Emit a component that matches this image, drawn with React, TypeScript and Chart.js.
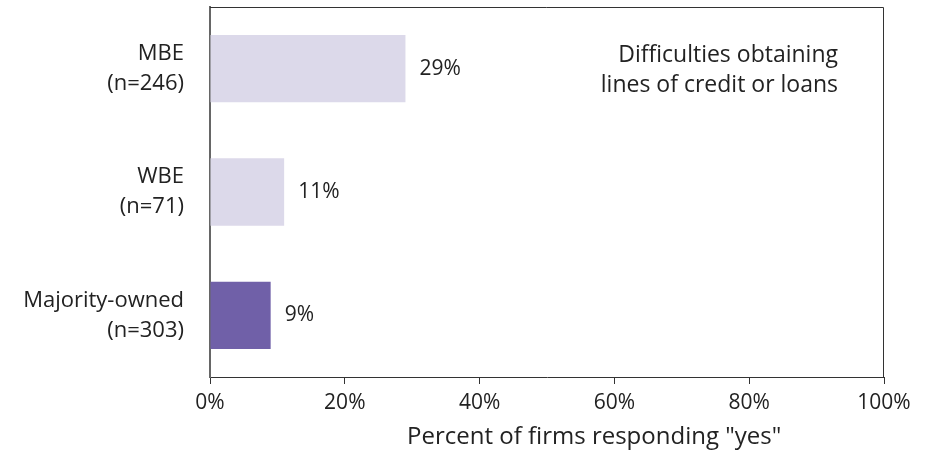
import React, { useEffect, useRef } from "react";
import { Chart, registerables } from "chart.js";

Chart.register(...registerables);

const categories: string[][] = [["MBE", "(n=246)"], ["WBE", "(n=71)"], ["Majority-owned", "(n=303)"]];
const values: number[] = [29, 11, 9];
const barColors: string[] = ["#dcd9ea", "#dcd9ea", "#7060a8"];
const xTicks: number[] = [0, 20, 40, 60, 80, 100];
const annotationLines: string[] = ["Difficulties obtaining", "lines of credit or loans"];
const xTitle = 'Percent of firms responding "yes"';

const FONT = "'Open Sans', 'Noto Sans', sans-serif";

const boxPlugin = {
  id: "boxAndLabels",
  afterDatasetsDraw(chart: any) {
    const { ctx, chartArea } = chart;
    const meta = chart.getDatasetMeta(0);
    ctx.save();
    // data labels
    ctx.font = `21px ${FONT}`;
    ctx.fillStyle = "#222";
    ctx.textAlign = "left";
    ctx.textBaseline = "middle";
    meta.data.forEach((bar: any, i: number) => {
      ctx.fillText(values[i] + "%", bar.x + 14, bar.y);
    });
    // annotation
    ctx.textAlign = "right";
    ctx.font = `23px ${FONT}`;
    annotationLines.forEach((line, i) => {
      ctx.fillText(line, chartArea.right - 46, chartArea.top + 48 + i * 30);
    });
    // axis title (offset right as in the original)
    ctx.textAlign = "center";
    ctx.font = `24px ${FONT}`;
    const xs = chart.scales.x;
    ctx.fillText(xTitle, xs.getPixelForValue(57), chartArea.bottom + 60);
    // box top and right
    ctx.strokeStyle = "#333";
    ctx.lineWidth = 1;
    ctx.beginPath();
    ctx.moveTo(chartArea.left, chartArea.top + 0.5);
    ctx.lineTo(chartArea.right - 0.5, chartArea.top + 0.5);
    ctx.lineTo(chartArea.right - 0.5, chartArea.bottom);
    ctx.stroke();
    ctx.restore();
  },
};

export default function App() {
  const ref = useRef<HTMLCanvasElement>(null);
  useEffect(() => {
    document.body.style.margin = "0";
    const chart = new Chart(ref.current!, {
      type: "bar",
      data: {
        labels: categories,
        datasets: [
          {
            data: values,
            backgroundColor: barColors,
            borderWidth: 0,
            barPercentage: 0.6,
            categoryPercentage: 0.91,
          },
        ],
      },
      options: {
        indexAxis: "y",
        animation: false,
        responsive: false,
        layout: { padding: { top: 7, right: 50, left: 0, bottom: 0 } },
        plugins: { legend: { display: false }, tooltip: { enabled: false } },
        scales: {
          x: {
            min: 0,
            max: 100,
            afterBuildTicks: (scale: any) => {
              scale.ticks = xTicks.map((v) => ({ value: v }));
            },
            ticks: {
              callback: (v: any) => v + "%",
              color: "#222",
              font: { family: FONT, size: 21 },
              padding: 6,
              maxRotation: 0,
            },
            grid: {
              drawOnChartArea: false,
              drawTicks: true,
              tickLength: 7,
              color: "#333",
              lineWidth: 1,
            },
            border: { display: true, color: "#333", width: 1 },
            title: { display: false },
            afterFit: (scale: any) => {
              scale.height = 73;
              scale.paddingLeft = 0;
            },
          },
          y: {
            ticks: {
              color: "#222",
              font: { family: FONT, size: 22, lineHeight: 1.36 },
              padding: 26,
            },
            grid: { display: false, drawTicks: false },
            border: { display: true, color: "#666", width: 2 },
            afterFit: (scale: any) => {
              scale.width = 210;
              scale.paddingTop = 0;
              scale.paddingBottom = 0;
            },
          },
        },
      },
      plugins: [boxPlugin],
    });
    return () => chart.destroy();
  }, []);
  return (
    <div style={{ position: "absolute", left: 0, top: 0, width: 934, height: 450, background: "#fff" }}>
      <canvas ref={ref} width={934} height={450} />
    </div>
  );
}
